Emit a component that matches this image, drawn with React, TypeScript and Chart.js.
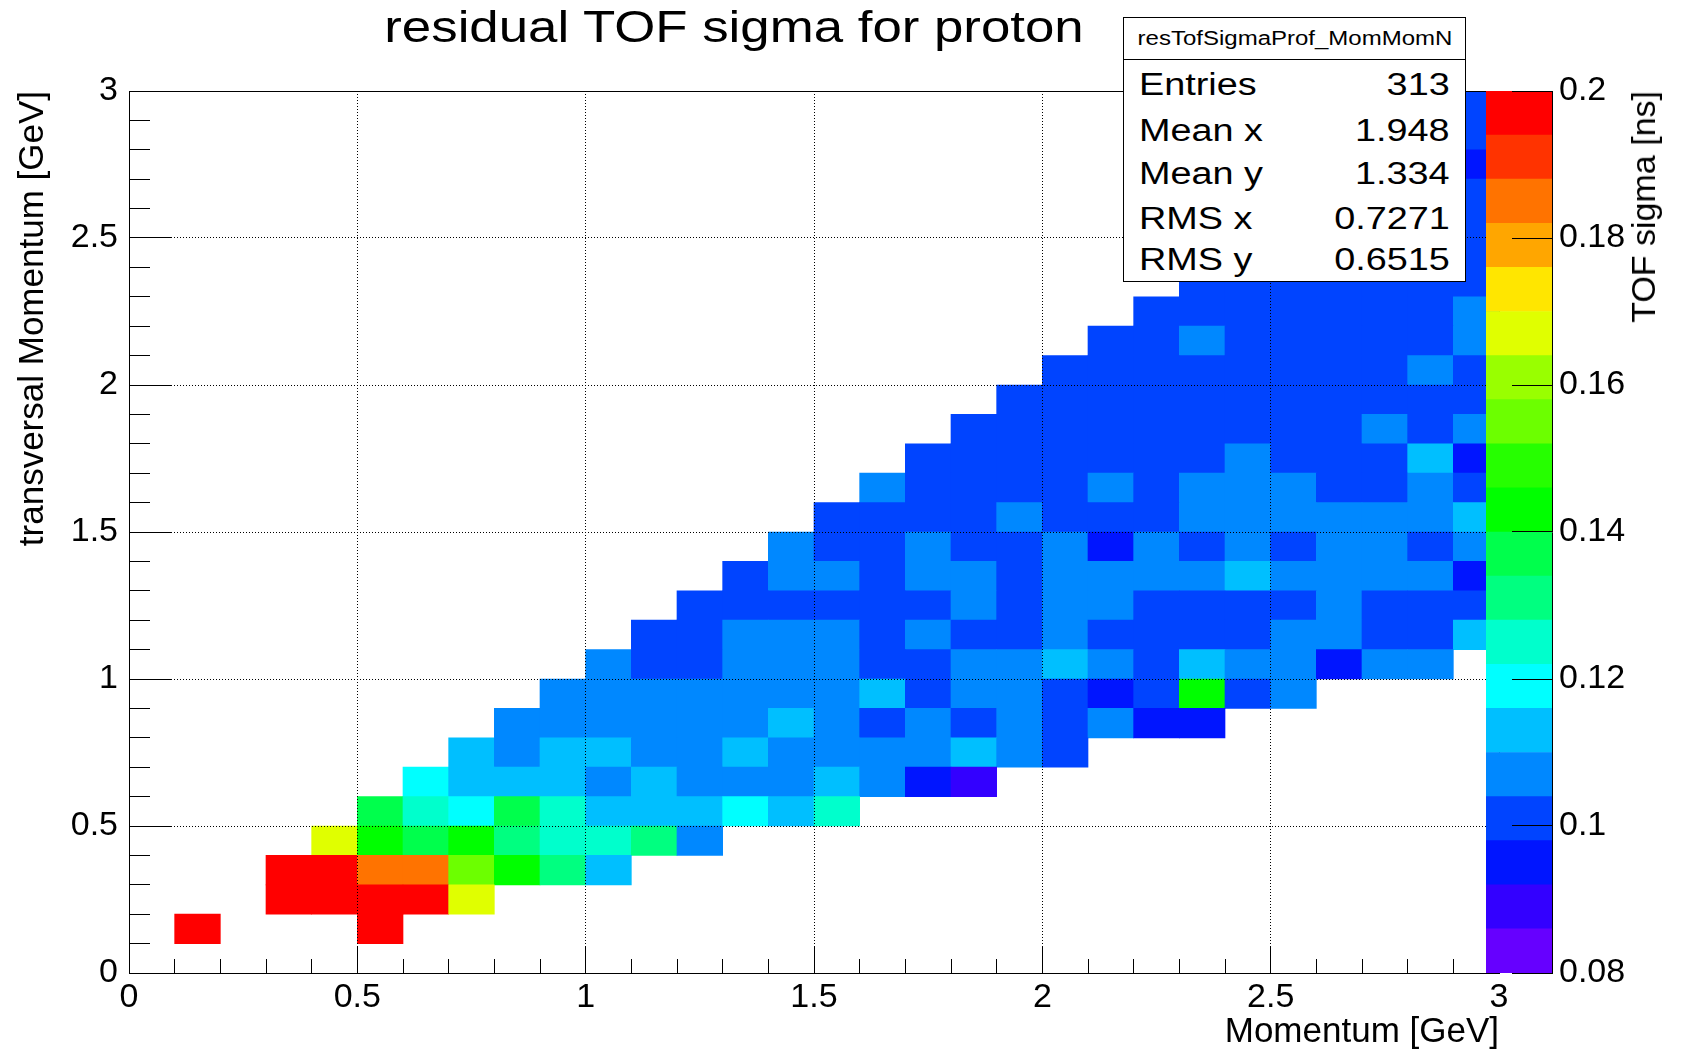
import React, { useEffect, useRef } from "react";
import { Chart, registerables } from "chart.js";

Chart.register(...registerables);

const FONT = "'Liberation Sans', Arial, Helvetica, sans-serif";
const _ = null;

// ---- texts ----
const chartTitle = "residual TOF sigma for proton";
const xAxisTitle = "Momentum [GeV]";
const yAxisTitle = "transversal Momentum [GeV]";
const zAxisTitle = "TOF sigma [ns]";
const statsName = "resTofSigmaProf_MomMomN";
const statsLabels = ["Entries", "Mean x", "Mean y", "RMS x", "RMS y"];
const statsValues = ["313", "1.948", "1.334", "0.7271", "0.6515"];

// ---- binning (GeV) ----
const momentumBinCenters = [
  0.05, 0.15, 0.25, 0.35, 0.45, 0.55, 0.65, 0.75, 0.85, 0.95,
  1.05, 1.15, 1.25, 1.35, 1.45, 1.55, 1.65, 1.75, 1.85, 1.95,
  2.05, 2.15, 2.25, 2.35, 2.45, 2.55, 2.65, 2.75, 2.85, 2.95,
];
const ptBinEdges = [
  0, 0.1, 0.2, 0.3, 0.4, 0.5, 0.6, 0.7, 0.8, 0.9,
  1.0, 1.1, 1.2, 1.3, 1.4, 1.5, 1.6, 1.7, 1.8, 1.9,
  2.0, 2.1, 2.2, 2.3, 2.4, 2.5, 2.6, 2.7, 2.8, 2.9, 3.0,
];

// ---- TOF sigma [ns] per pT row: first filled momentum bin + values ----
const row01 = { row: 1, first: 1, sigma: [0.197, _, _, _, 0.197] };
const row02 = { row: 2, first: 3, sigma: [0.197, 0.197, 0.197, 0.197, 0.167] };
const row03 = { row: 3, first: 3, sigma: [0.197, 0.197, 0.185, 0.185, 0.155, 0.143, 0.131, 0.113] };
const row04 = { row: 4, first: 4, sigma: [0.167, 0.143, 0.137, 0.143, 0.131, 0.125, 0.125, 0.131, 0.107] };
const row05 = { row: 5, first: 5, sigma: [0.137, 0.125, 0.119, 0.137, 0.125, 0.113, 0.113, 0.113, 0.119, 0.113, 0.125] };
const row06 = { row: 6, first: 6, sigma: [0.119, 0.113, 0.113, 0.113, 0.107, 0.113, 0.107, 0.107, 0.107, 0.113, 0.107, 0.095, 0.089] };
const row07 = { row: 7, first: 7, sigma: [0.113, 0.107, 0.113, 0.113, 0.107, 0.107, 0.113, 0.107, 0.107, 0.107, 0.107, 0.113, 0.107, 0.101] };
const row08 = { row: 8, first: 8, sigma: [0.107, 0.107, 0.107, 0.107, 0.107, 0.107, 0.113, 0.107, 0.101, 0.107, 0.101, 0.107, 0.101, 0.107, 0.095, 0.095] };
const row09 = { row: 9, first: 9, sigma: [0.107, 0.107, 0.107, 0.107, 0.107, 0.107, 0.107, 0.113, 0.101, 0.107, 0.107, 0.101, 0.095, 0.101, 0.143, 0.101, 0.107] };
const row10 = { row: 10, first: 10, sigma: [0.107, 0.101, 0.101, 0.107, 0.107, 0.107, 0.101, 0.101, 0.107, 0.107, 0.113, 0.107, 0.101, 0.113, 0.107, 0.107, 0.095, 0.107, 0.107] };
const row11 = { row: 11, first: 11, sigma: [0.101, 0.101, 0.107, 0.107, 0.107, 0.101, 0.107, 0.101, 0.101, 0.107, 0.101, 0.101, 0.101, 0.101, 0.107, 0.107, 0.101, 0.101, 0.113] };
const row12 = { row: 12, first: 12, sigma: [0.101, 0.101, 0.101, 0.101, 0.101, 0.101, 0.107, 0.101, 0.107, 0.107, 0.101, 0.101, 0.101, 0.101, 0.107, 0.101, 0.101, 0.101] };
const row13 = { row: 13, first: 13, sigma: [0.101, 0.107, 0.107, 0.101, 0.107, 0.107, 0.101, 0.107, 0.107, 0.107, 0.107, 0.113, 0.107, 0.107, 0.107, 0.107, 0.095] };
const row14 = { row: 14, first: 14, sigma: [0.107, 0.101, 0.101, 0.107, 0.101, 0.101, 0.107, 0.095, 0.107, 0.101, 0.107, 0.101, 0.107, 0.107, 0.101, 0.107] };
const row15 = { row: 15, first: 15, sigma: [0.101, 0.101, 0.101, 0.101, 0.107, 0.101, 0.101, 0.101, 0.107, 0.107, 0.107, 0.107, 0.107, 0.107, 0.113] };
const row16 = { row: 16, first: 16, sigma: [0.107, 0.101, 0.101, 0.101, 0.101, 0.107, 0.101, 0.107, 0.107, 0.107, 0.101, 0.101, 0.107, 0.101] };
const row17 = { row: 17, first: 17, sigma: [0.101, 0.101, 0.101, 0.101, 0.101, 0.101, 0.101, 0.107, 0.101, 0.101, 0.101, 0.113, 0.095] };
const row18 = { row: 18, first: 18, sigma: [0.101, 0.101, 0.101, 0.101, 0.101, 0.101, 0.101, 0.101, 0.101, 0.107, 0.101, 0.107] };
const row19 = { row: 19, first: 19, sigma: [0.101, 0.101, 0.101, 0.101, 0.101, 0.101, 0.101, 0.101, 0.101, 0.101, 0.101] };
const row20 = { row: 20, first: 20, sigma: [0.101, 0.101, 0.101, 0.101, 0.101, 0.101, 0.101, 0.101, 0.107, 0.101] };
const row21 = { row: 21, first: 21, sigma: [0.101, 0.101, 0.107, 0.101, 0.101, 0.101, 0.101, 0.101, 0.107] };
const row22 = { row: 22, first: 22, sigma: [0.101, 0.101, 0.101, 0.101, 0.101, 0.101, 0.101, 0.107] };
const row23 = { row: 23, first: 23, sigma: [0.101, 0.101, 0.101, 0.101, 0.101, 0.101, 0.101] };
const row24 = { row: 24, first: 29, sigma: [0.101] };
const row25 = { row: 25, first: 29, sigma: [0.101] };
const row26 = { row: 26, first: 29, sigma: [0.101] };
const row27 = { row: 27, first: 29, sigma: [0.095] };
const row28 = { row: 28, first: 29, sigma: [0.101] };
const row29 = { row: 29, first: 29, sigma: [0.101] };

const sigmaRows = [
  row01, row02, row03, row04, row05, row06, row07, row08, row09, row10,
  row11, row12, row13, row14, row15, row16, row17, row18, row19, row20,
  row21, row22, row23, row24, row25, row26, row27, row28, row29,
];

// ---- colour palette (20 contour levels 0.08 .. 0.2) ----
const zLevelEdges = [
  0.08, 0.086, 0.092, 0.098, 0.104, 0.11, 0.116, 0.122, 0.128, 0.134, 0.14,
  0.146, 0.152, 0.158, 0.164, 0.17, 0.176, 0.182, 0.188, 0.194, 0.2,
];
const paletteColors = [
  "#6600ff", "#3300ff", "#0015ff", "#0044ff", "#0088ff",
  "#00bfff", "#00ffff", "#00ffcc", "#00ff80", "#00ff4c",
  "#00ff00", "#26ff00", "#6cff00", "#99ff00", "#e0ff00",
  "#ffe600", "#ffa600", "#ff7300", "#ff3300", "#ff0000",
];

function sigmaColor(v: number) {
  for (let k = 0; k < paletteColors.length; k++) {
    if (v < zLevelEdges[k + 1]) return paletteColors[k];
  }
  return paletteColors[paletteColors.length - 1];
}

const tickFmt = (v: any) => String(Math.round(Number(v) * 1000) / 1000);
const isInner = (c: any) => {
  const v = c.tick ? c.tick.value : NaN;
  return v > 0.001 && v < 2.999;
};
const innerGrid = (c: any) => (isInner(c) ? "#000000" : "rgba(0,0,0,0)");

const framePlugin = {
  id: "rootFrame",
  afterDraw(chart: any) {
    const { ctx, chartArea: a } = chart;
    ctx.save();
    ctx.strokeStyle = "#000";
    ctx.lineWidth = 1;
    const l = Math.round(a.left) + 0.5;
    const t = Math.round(a.top) + 0.5;
    const r = Math.round(a.right) + 0.5;
    const b = Math.round(a.bottom) + 0.5;
    ctx.strokeRect(l, t, r - l, b - t);
    ctx.restore();
  },
};

function mainConfig(): any {
  const datasets = sigmaRows.map((r) => ({
    type: "bar",
    label: `pT bin ${r.row}`,
    data: r.sigma
      .map((v, k) =>
        v == null
          ? null
          : {
              x: momentumBinCenters[r.first + k],
              y: [ptBinEdges[r.row], ptBinEdges[r.row + 1]],
              sigma: v,
            }
      )
      .filter((d) => d !== null),
    backgroundColor: (ctx: any) => sigmaColor(ctx.raw ? ctx.raw.sigma : 0.1),
    borderWidth: 0,
    grouped: false,
    barPercentage: 1,
    categoryPercentage: 1,
    xAxisID: "x",
    yAxisID: "y",
  }));

  const tickFont = { family: FONT, size: 34 };
  const titleFont = { family: FONT, size: 35 };

  return {
    type: "bar",
    data: { datasets },
    plugins: [framePlugin],
    options: {
      responsive: false,
      maintainAspectRatio: false,
      devicePixelRatio: 1,
      animation: false,
      events: [],
      layout: { padding: { left: 0, right: 183, top: 91, bottom: 0 } },
      plugins: {
        legend: { display: false },
        title: { display: false },
        tooltip: { enabled: false },
      },
      scales: {
        x: {
          type: "linear",
          axis: "x",
          position: "bottom",
          weight: 1,
          min: 0,
          max: 3,
          offset: false,
          afterFit: (s: any) => {
            s.height = 82;
          },
          ticks: {
            stepSize: 0.5,
            autoSkip: false,
            maxRotation: 0,
            minRotation: 0,
            padding: 31,
            color: "#000",
            font: tickFont,
            callback: tickFmt,
          },
          grid: {
            offset: false,
            drawOnChartArea: true,
            drawTicks: true,
            tickLength: -27,
            tickWidth: 1,
            tickColor: innerGrid,
            lineWidth: 1,
            color: innerGrid,
            z: 1,
          },
          border: { display: false, dash: [1, 2] },
          title: {
            display: true,
            text: xAxisTitle,
            align: "end",
            color: "#000",
            font: titleFont,
            padding: { top: 0, bottom: 2 },
          },
        },
        xMinor: {
          type: "linear",
          axis: "x",
          position: "bottom",
          weight: 0,
          min: 0,
          max: 3,
          offset: false,
          afterFit: (s: any) => {
            s.height = 0;
          },
          ticks: { display: false, stepSize: 0.1, autoSkip: false },
          grid: {
            offset: false,
            drawOnChartArea: false,
            drawTicks: true,
            tickLength: -14,
            tickWidth: 1,
            tickColor: innerGrid,
            z: 1,
          },
          border: { display: false },
        },
        y: {
          type: "linear",
          axis: "y",
          position: "left",
          weight: 1,
          min: 0,
          max: 3,
          afterFit: (s: any) => {
            s.width = 129;
          },
          ticks: {
            stepSize: 0.5,
            autoSkip: false,
            padding: 53,
            color: "#000",
            font: tickFont,
            callback: tickFmt,
          },
          grid: {
            drawOnChartArea: true,
            drawTicks: true,
            tickLength: -42,
            tickWidth: 1,
            tickColor: innerGrid,
            lineWidth: 1,
            color: innerGrid,
            z: 1,
          },
          border: { display: false, dash: [1, 2] },
          title: {
            display: true,
            text: yAxisTitle,
            align: "end",
            color: "#000",
            font: titleFont,
            padding: { top: 12, bottom: 0 },
          },
        },
        yMinor: {
          type: "linear",
          axis: "y",
          position: "left",
          weight: 0,
          min: 0,
          max: 3,
          afterFit: (s: any) => {
            s.width = 0;
          },
          ticks: { display: false, stepSize: 0.1, autoSkip: false },
          grid: {
            drawOnChartArea: false,
            drawTicks: true,
            tickLength: -21,
            tickWidth: 1,
            tickColor: innerGrid,
            z: 1,
          },
          border: { display: false },
        },
      },
    },
  };
}

function colorbarConfig(): any {
  return {
    type: "bar",
    data: {
      labels: ["palette"],
      datasets: paletteColors.map((c, k) => ({
        label: `level ${k}`,
        data: [[zLevelEdges[k], zLevelEdges[k + 1]]],
        backgroundColor: c,
        borderWidth: 0,
        grouped: false,
        barPercentage: 1,
        categoryPercentage: 1,
      })),
    },
    options: {
      responsive: false,
      maintainAspectRatio: false,
      devicePixelRatio: 1,
      animation: false,
      events: [],
      layout: { padding: { left: 0, right: 0, top: 91, bottom: 82 } },
      plugins: {
        legend: { display: false },
        title: { display: false },
        tooltip: { enabled: false },
      },
      scales: {
        x: { type: "category", display: false, offset: true },
        y: {
          type: "linear",
          position: "right",
          min: 0.08,
          max: 0.2,
          afterFit: (s: any) => {
            s.width = 130;
          },
          ticks: {
            stepSize: 0.02,
            autoSkip: false,
            padding: 47,
            color: "#000",
            font: { family: FONT, size: 34 },
            callback: tickFmt,
          },
          grid: {
            drawOnChartArea: false,
            drawTicks: true,
            tickLength: -40,
            tickWidth: 1,
            tickColor: "#000",
            z: 1,
          },
          border: { display: true, color: "#000", width: 1, z: 1 },
        },
      },
    },
  };
}

const statsTops = [69, 114.5, 158, 202.5, 244];

export default function App() {
  const mainRef = useRef<HTMLCanvasElement>(null);
  const barRef = useRef<HTMLCanvasElement>(null);

  useEffect(() => {
    const main = new Chart(mainRef.current as HTMLCanvasElement, mainConfig());
    const bar = new Chart(barRef.current as HTMLCanvasElement, colorbarConfig());
    return () => {
      main.destroy();
      bar.destroy();
    };
  }, []);

  return (
    <div
      style={{
        position: "absolute",
        left: 0,
        top: 0,
        width: 1682,
        height: 1055,
        overflow: "hidden",
        background: "#fff",
        fontFamily: FONT,
        color: "#000",
      }}
    >
      <canvas ref={mainRef} width={1682} height={1055} style={{ position: "absolute", left: 0, top: 0 }} />
      <canvas ref={barRef} width={196} height={1055} style={{ position: "absolute", left: 1486, top: 0 }} />

      <div
        style={{
          position: "absolute",
          left: 734,
          top: 4.5,
          fontSize: 44,
          lineHeight: "44px",
          whiteSpace: "nowrap",
          transform: "translateX(-50%) scaleX(1.2)",
        }}
      >
        {chartTitle}
      </div>

      <div
        style={{
          position: "absolute",
          left: 1643 - 17,
          top: 91,
          width: 34,
          fontSize: 34,
          lineHeight: "34px",
          whiteSpace: "nowrap",
          writingMode: "vertical-rl",
          transform: "rotate(180deg)",
        }}
      >
        {zAxisTitle}
      </div>

      <div
        style={{
          position: "absolute",
          left: 1123,
          top: 17,
          width: 343,
          height: 265,
          boxSizing: "border-box",
          border: "1px solid #000",
          background: "#fff",
        }}
      />
      <div style={{ position: "absolute", left: 1123, top: 59, width: 343, height: 1, background: "#000" }} />
      <div
        style={{
          position: "absolute",
          left: 1294.5,
          top: 28,
          fontSize: 20,
          lineHeight: "20px",
          whiteSpace: "nowrap",
          transform: "translateX(-50%) scaleX(1.2)",
        }}
      >
        {statsName}
      </div>
      {statsLabels.map((lab, i) => (
        <div
          key={"l" + i}
          style={{
            position: "absolute",
            left: 1139,
            top: statsTops[i],
            fontSize: 31,
            lineHeight: "31px",
            whiteSpace: "nowrap",
            transform: "scaleX(1.22)",
            transformOrigin: "left top",
          }}
        >
          {lab}
        </div>
      ))}
      {statsValues.map((val, i) => (
        <div
          key={"v" + i}
          style={{
            position: "absolute",
            right: 1682 - 1450,
            top: statsTops[i],
            fontSize: 31,
            lineHeight: "31px",
            whiteSpace: "nowrap",
            textAlign: "right",
            transform: "scaleX(1.22)",
            transformOrigin: "right top",
          }}
        >
          {val}
        </div>
      ))}
    </div>
  );
}
